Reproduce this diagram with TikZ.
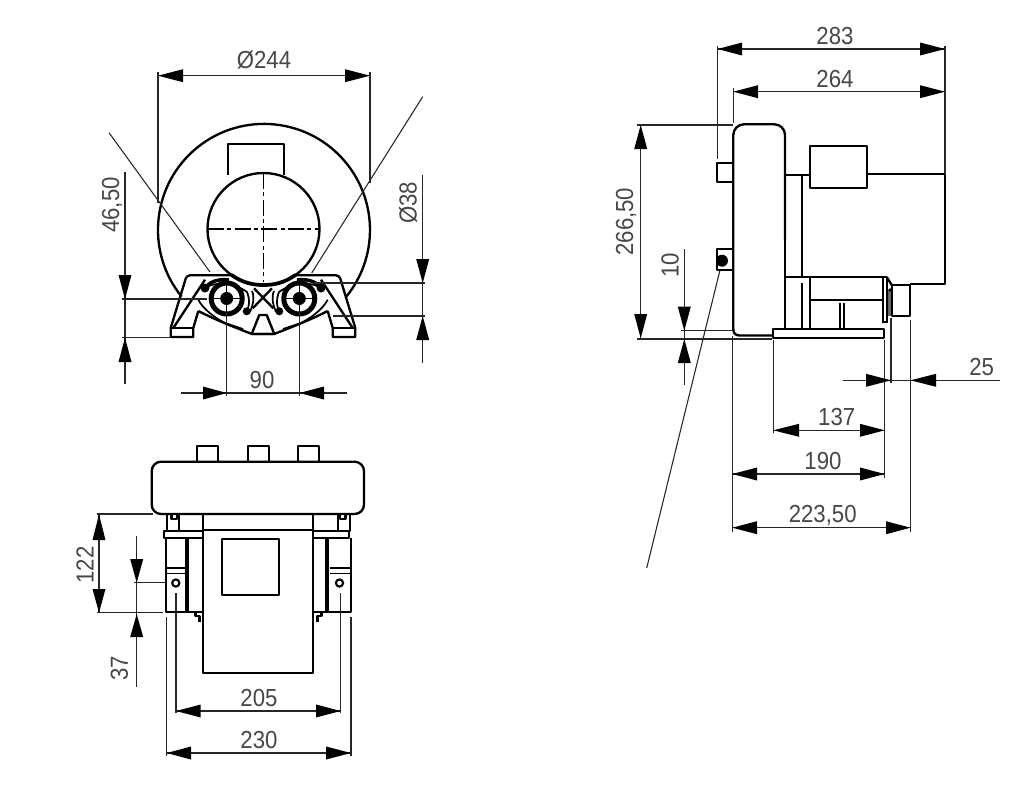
\documentclass[tikz,border=0pt]{standalone}
\usepackage{fontspec}
\setmainfont{Liberation Sans}[FakeStretch=0.9]
\tikzset{
  x=0.75pt,y=-0.75pt,
  obj/.style={line width=1.75pt,line join=round,black},
  dim/.style={line width=0.85pt,black!85},
  ext/.style={line width=0.8pt,black!85},
  center line/.style={line width=0.9pt,black,dash pattern=on 12pt off 2.5pt on 3pt off 2.5pt},
  lbl/.style={font=\fontsize{18.5}{20}\selectfont,text=black!72,inner sep=0pt},
}
\newcommand{\harr}[3]{\fill[black] (#1,#3) -- (#2,#3-6.5) -- (#2,#3+6.5) -- cycle;}
\newcommand{\varr}[3]{\fill[black] (#1,#2) -- (#1-6.5,#3) -- (#1+6.5,#3) -- cycle;}
\begin{document}
\begin{tikzpicture}
\useasboundingbox (0,0) rectangle (1024,785);
\fill[white] (0,0) rectangle (1024,785);

%% ---------- FRONT VIEW ----------
\draw[obj] (181.6,296.6) arc[start angle=219,end angle=-39,x radius=106,y radius=-106];
\draw[obj] (227.7,175) -- (227.7,144) -- (284,144) -- (284,175);
\draw[obj,fill=white] (263.5,229) circle[radius=56];
\draw[line width=2.8pt] (231.5,275) .. controls (243,283) and (253,285) .. (263.5,285) .. controls (274,285) and (284,283) .. (295.5,275);
\draw[center line] (263.5,173) -- (263.5,282);
\draw[center line] (208,229) -- (320,229);
\draw[ext] (109,132.7) -- (210,272);
\draw[ext] (422.7,96.7) -- (311.7,273);
\foreach \s in {1,-1}{
 \begin{scope}[shift={(263,0)},xscale=\s]
  \draw[obj,rounded corners=2.5pt] (-32,275.3) -- (-76.3,275.3) -- (-92.3,328);
  \draw[obj] (-92.3,328) -- (-92.3,337) -- (-69.7,337) -- (-69.7,328) -- (-64.7,311);
  \draw[obj] (-92.3,328) -- (-69.7,328);
  \draw[obj] (-58,279.7) -- (-89.7,328);
  \draw[obj] (-64.7,311) .. controls (-55,316) and (-40,323) .. (-11,334) -- (11,334);
  \draw[line width=1.3pt] (-64.7,299.7) .. controls (-60,309) and (-48,318) .. (-38,323) -- (-20,329);
  \draw[line width=2.6pt] (-58,288) .. controls (-52,280) and (-42,279) .. (-34,280);
  \draw[line width=1.3pt] (-56,287) .. controls (-48,282) and (-30,282) .. (-16,292)
     .. controls (-13,300) and (-13,306) .. (-17,312);
  \draw[line width=1.3pt] (-11,291) .. controls (-8,298) and (-10,305) .. (-13,312);
  \draw[obj] (-9,288.3) -- (10.3,308.3);
  \draw[obj] (-11.3,334) -- (-3.7,315) -- (0,315);
  \fill (-58,288) circle[radius=4.5];
  \fill (-16.3,311.3) circle[radius=4];
  \draw[line width=3.75pt,fill=white] (-36.3,298.5) circle[radius=15.5];
  \draw[line width=.7pt] (-50,298.5) -- (-22.6,298.5);
  \draw[line width=.7pt] (-36.3,285) -- (-36.3,312);
  \fill (-36.3,298.5) circle[radius=6.5];
 \end{scope}
}
\draw[dim] (158,72) -- (158,203);
\draw[dim] (370,72) -- (370,183);
\draw[dim] (158,75.7) -- (370,75.7);
\harr{158}{183}{75.7}\harr{370}{345}{75.7}
\node[lbl] (t244) at (264,60) {Ø244};

\draw[dim] (125,172) -- (125,384);
\draw[dim] (122,299) -- (207,299);
\draw[dim] (122,337.7) -- (170,337.7);
\varr{125}{299}{275}\varr{125}{337.7}{362}
\node[lbl,rotate=90] (t465) at (112,205) {46,50};

\draw[dim] (422.7,175) -- (422.7,363);
\draw[dim] (313,283) -- (425,283);
\draw[dim] (333,316) -- (425,316);
\varr{422.7}{283}{259}\varr{422.7}{316}{340}
\node[lbl,rotate=90] (t38) at (408,203) {Ø38};

\draw[dim] (181,393) -- (347,393);
\draw[dim] (226.7,312) -- (226.7,396);
\draw[dim] (299.3,312) -- (299.3,396);
\harr{226.7}{203}{393}\harr{299.3}{324}{393}
\node[lbl] (t90) at (262,380) {90};

%% ---------- TOP VIEW ----------
\foreach \x in {196.7,247.7,297.7}
  \draw[obj] (\x,461.7) -- (\x,445.7) -- (\x+21,445.7) -- (\x+21,461.7);
\draw[obj,rounded corners=7pt] (151.7,461.7) rectangle (364,514);
\draw[obj] (203.3,514) rectangle (313.3,673);
\draw[obj] (203.3,530) -- (313.3,530);
\draw[obj] (221.7,539) rectangle (279.3,595);
\foreach \s/\e in {1/94.2,-1/90.8}{
 \begin{scope}[shift={(258.5,0)},xscale=\s]
  \draw[obj] (-91.8,514) -- (-91.8,531) -- (-79.2,531) -- (-79.2,514);
  \draw[obj] (-55.2,531) -- (-\e,531) -- (-\e,538.3) -- (-55.2,538.3);
  \draw[obj] (-92.5,538.3) -- (-92.5,612) -- (-55.2,612);
  \draw[obj] (-92.5,568.3) -- (-71,568.3);
  \draw[line width=.9pt] (-92.5,573.3) -- (-71,573.3);
  \draw[obj] (-63,612) -- (-63,616) -- (-59,616) -- (-59,622);
  \draw[obj] (-87,515) -- (-87,519) -- (-81.5,519) -- (-81.5,515);
 \end{scope}
}
\draw[line width=3.2pt] (186.9,538.3) -- (186.9,612);
\draw[line width=3.2pt] (327.3,538.3) -- (327.3,612);
\foreach \x in {175.8,339.5}
  \draw[line width=1.6pt,fill=white] (\x,583) circle[radius=3.6];

\draw[dim] (96.7,514) -- (153,514);
\draw[dim] (96.7,612.7) -- (162.7,612.7);
\draw[dim] (99,514) -- (99,612.7);
\varr{99}{514.5}{540}\varr{99}{612.7}{589}
\node[lbl,rotate=90] (t122) at (85,565) {122};

\draw[dim] (134,582.7) -- (166,582.7);
\draw[dim] (136.7,536) -- (136.7,686.7);
\varr{136.7}{582.7}{559}\varr{136.7}{614}{637}
\node[lbl,rotate=90] (t37) at (119.3,668) {37};

\draw[dim] (176,593) -- (176,713);
\draw[dim] (340.7,593) -- (340.7,713);
\draw[dim] (176,711) -- (340.7,711);
\harr{176}{200.7}{711}\harr{340.7}{316}{711}
\node[lbl] (t205) at (259,697.7) {205};

\draw[dim] (166.7,616.7) -- (166.7,756);
\draw[dim] (351,616.7) -- (351,756);
\draw[dim] (166.7,753) -- (351,753);
\harr{166.7}{191}{753}\harr{351}{326}{753}
\node[lbl] (t230) at (259,740) {230};

%% ---------- SIDE VIEW ----------
\draw[obj,rounded corners=8pt] (733.3,240) -- (733.3,124.3) -- (785,124.3) -- (785,240);
\draw[obj] (733.3,240) -- (733.3,329) .. controls (733.3,334) and (736,335.5) .. (740,335.5) -- (772.7,335.5);
\draw[obj] (785,240) -- (785,329);
\draw[obj] (717.3,162.7) rectangle (733,181.7);
\draw[obj] (717.3,249) rectangle (733,270);
\fill (722,260.7) circle[radius=6];
\draw[obj] (785,175) -- (810,175);
\draw[obj] (801.7,175) -- (801.7,276.7);
\draw[obj] (866.7,174) -- (945,174) -- (945,284.3) -- (910,284.3);
\draw[obj] (810,145.7) rectangle (866.7,187.7);
\draw[obj] (785,276.7) -- (886.7,276.7);
\draw[obj] (810,276.7) -- (810,329);
\draw[obj] (801.7,283) -- (801.7,329);
\draw[obj] (810,300) -- (882.7,300);
\draw[obj] (840,302.7) -- (840,329);
\draw[obj] (844.3,302.7) -- (844.3,329);
\draw[obj] (773.3,329.3) rectangle (884,338.3);
\draw[line width=1.2pt] (882.7,277) -- (882.7,322) -- (886.7,322) -- (886.7,277);
\fill[black!60] (888,290) rectangle (891.7,316);
\draw[obj] (886.7,277) -- (891.7,285);
\fill (890,290) circle[radius=1.8];
\draw[obj] (891.7,285) rectangle (910,316);
\draw[ext] (720,270) -- (646.7,568);

\draw[dim] (717.7,46) -- (717.7,159);
\draw[dim] (945,46) -- (945,173);
\draw[dim] (717.7,49) -- (945,49);
\harr{717.7}{742}{49}\harr{945}{920}{49}
\node[lbl] (t283) at (835,36) {283};

\draw[dim] (733.3,88) -- (733.3,123);
\draw[dim] (733.3,91.7) -- (945,91.7);
\harr{733.3}{758}{91.7}\harr{945}{920}{91.7}
\node[lbl] (t264) at (835,79) {264};

\draw[dim] (636.7,125) -- (733,125);
\draw[dim] (636.7,339) -- (771.7,339);
\draw[dim] (640.7,125) -- (640.7,339);
\varr{640.7}{125}{149}\varr{640.7}{338.3}{314}
\node[lbl,rotate=90] (t266) at (626,221.7) {266,50};

\draw[dim] (681,330.7) -- (733,330.7);
\draw[dim] (684.3,249.3) -- (684.3,385);
\varr{684.3}{330.7}{306.7}\varr{684.3}{339}{363}
\node[lbl,rotate=90] (t10) at (670,265) {10};

\draw[dim] (732.3,336) -- (732.3,531.7);
\draw[dim] (773.3,340) -- (773.3,432.7);
\draw[dim] (884.7,340) -- (884.7,478);
\draw[dim] (891,318) -- (891,383);
\draw[dim] (910.5,320) -- (910.5,531.7);
\draw[dim] (843,380.3) -- (1000,380.3);
\harr{891}{866}{380.3}\harr{910.5}{936}{380.3}
\node[lbl] (t25) at (981.7,367) {25};

\draw[dim] (773.3,430.3) -- (884.7,430.3);
\harr{773.3}{799}{430.3}\harr{884.7}{860}{430.3}
\node[lbl] (t137) at (836.7,417) {137};

\draw[dim] (732.3,474) -- (884.7,474);
\harr{732.3}{757}{474}\harr{884.7}{860}{474}
\node[lbl] (t190) at (823,460.7) {190};

\draw[dim] (732.3,527.7) -- (910.5,527.7);
\harr{732.3}{757}{527.7}\harr{910.5}{886}{527.7}
\node[lbl] (t223) at (822.7,515) {223,50};
\end{tikzpicture}
\end{document}
